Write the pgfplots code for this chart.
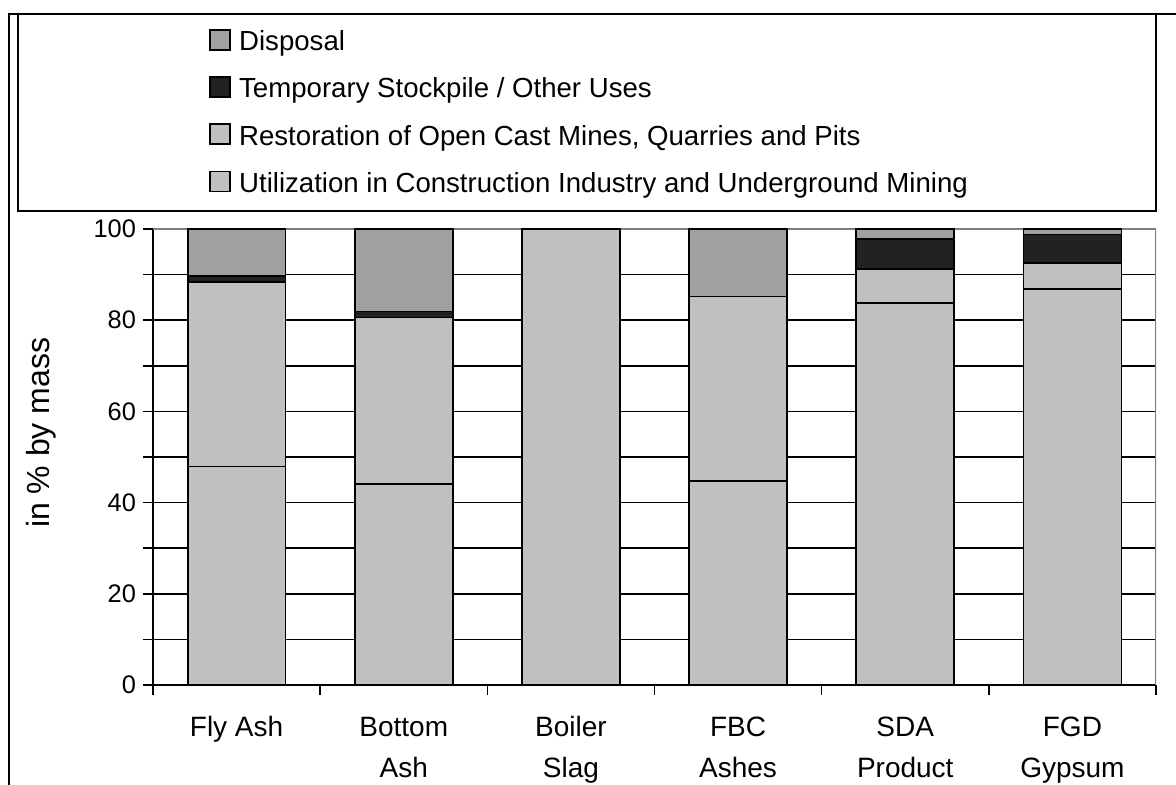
\documentclass[border=0pt]{standalone}
\usepackage{pgfplots}
\pgfplotsset{compat=1.18}
\usepackage{fontspec}
\setmainfont{Liberation Sans}
\definecolor{cdisp}{RGB}{160,160,160}
\definecolor{ctemp}{RGB}{34,34,34}
\definecolor{crest}{RGB}{192,192,192}
\definecolor{cutil}{RGB}{192,192,192}
\begin{document}
\begin{tikzpicture}
\useasboundingbox (0,0) rectangle (588pt,392.5pt);
\draw[line width=1pt] (4.5pt,0pt) -- (4.5pt,385.5pt) -- (588pt,385.5pt);
\draw[line width=1pt] (9pt,287pt) rectangle (578pt,385.5pt);
\begin{axis}[
  at={(76.5pt,50pt)}, anchor=south west,
  scale only axis, width=501.5pt, height=228pt,
  ybar stacked, bar width=0.586,
  xmin=-0.5, xmax=5.5, ymin=0, ymax=100,
  axis x line=bottom, axis y line=left,
  axis line style={-, line width=0.8pt, black},
  xtick={0,1,2,3,4,5},
  xticklabels={\strut Fly Ash, \strut Bottom\\Ash, \strut Boiler\\Slag, \strut FBC\\Ashes, \strut SDA\\Product, \strut FGD\\Gypsum},
  xticklabel style={align=center, font=\fontsize{14}{20.5}\selectfont, yshift=-3pt},
  minor xtick={-0.5,0.5,...,5.5},
  ytick={0,20,...,100},
  minor ytick={10,30,...,90},
  tick align=outside,
  major tick length=5pt, minor tick length=5pt,
  major x tick style={draw=none},
  tick style={line width=0.8pt, black},
  ymajorgrids, yminorgrids,
  major grid style={line width=0.75pt, black},
  minor grid style={line width=0.75pt, black},
  /pgf/number format/assume math mode=true,
  yticklabel style={font=\fontsize{12.7}{14}\selectfont},
  ylabel={in \% by mass},
  ylabel style={at={(axis description cs:-0.1117,0.553)}, anchor=center, font=\fontsize{16}{18}\selectfont},
  every axis plot/.append style={draw=black, line width=0.9pt},
  reverse legend,
  legend cell align=left,
  legend style={at={(axis description cs:0.0558,1.44)}, anchor=north west, draw=none, fill=none,
    inner sep=0pt, font=\fontsize{13.8}{16}\selectfont, row sep=9.7pt,
    nodes={inner sep=0pt, text height=10pt, text depth=3pt}, column sep=4pt},
  legend image code/.code={\draw[#1, line width=0.9pt] (0pt,-3pt) rectangle (10pt,7pt);},
]
\addplot[fill=cutil] coordinates {(0,47.9) (1,44.0) (2,100) (3,44.8) (4,83.8) (5,86.9)};
\addlegendentry{Utilization in Construction Industry and Underground Mining}
\addplot[fill=crest] coordinates {(0,40.4) (1,36.6) (2,0) (3,40.4) (4,7.4) (5,5.7)};
\addlegendentry{Restoration of Open Cast Mines, Quarries and Pits}
\addplot[fill=ctemp] coordinates {(0,1.4) (1,1.3) (2,0) (3,0) (4,6.6) (5,6.2)};
\addlegendentry{Temporary Stockpile / Other Uses}
\addplot[fill=cdisp] coordinates {(0,10.3) (1,18.1) (2,0) (3,14.8) (4,2.2) (5,1.2)};
\addlegendentry{Disposal}
\draw[gray, line width=0.8pt] (rel axis cs:0,1) -- (rel axis cs:1,1) -- (rel axis cs:1,0);
\end{axis}
\end{tikzpicture}
\end{document}
